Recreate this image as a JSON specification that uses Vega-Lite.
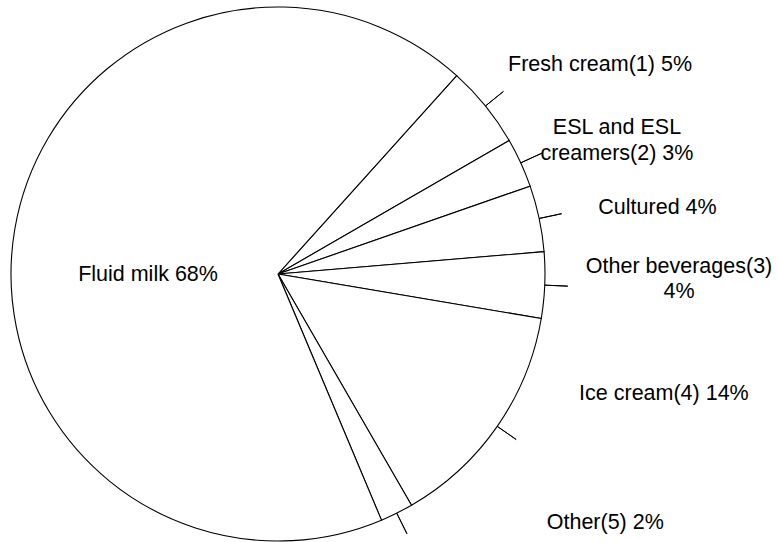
{
  "$schema": "https://vega.github.io/schema/vega-lite/v6.json",
  "width": 556,
  "height": 548,
  "padding": 0,
  "autosize": {"type": "pad"},
  "background": "white",
  "config": {"view": {"stroke": null}, "text": {"font": "Liberation Sans", "fontSize": 21.5, "color": "black", "lineBreak": "\n", "lineHeight": 25.3, "baseline": "alphabetic"}},
  "data": {"values": [
    {"category": "Fresh cream(1)", "value": 5, "label": "Fresh cream(1) 5%"},
    {"category": "ESL and ESL creamers(2)", "value": 3, "label": "ESL and ESL\ncreamers(2) 3%"},
    {"category": "Cultured", "value": 4, "label": "Cultured 4%"},
    {"category": "Other beverages(3)", "value": 4, "label": "Other beverages(3)\n4%"},
    {"category": "Ice cream(4)", "value": 14, "label": "Ice cream(4) 14%"},
    {"category": "Other(5)", "value": 2, "label": "Other(5) 2%"},
    {"category": "Fluid milk", "value": 68, "label": "Fluid milk 68%"}
  ]},
  "transform": [
    {"stack": "value", "groupby": [], "as": ["v0", "v1"]},
    {"calculate": "(datum.v0 + datum.v1) / 2", "as": "mid"}
  ],
  "layer": [
    {
      "mark": {"type": "arc", "radius": 267, "fill": "white", "stroke": "black", "strokeWidth": 1.1},
      "encoding": {
        "theta": {"field": "v0", "type": "quantitative", "scale": {"type": "linear", "domain": [0, 100], "range": [0.733, 7.0162]}},
        "theta2": {"field": "v1"}
      }
    },
    {
      "transform": [{"filter": "datum.category !== 'Fluid milk'"}],
      "mark": {"type": "arc", "radius": 290, "radius2": 267, "fill": null, "stroke": "black", "strokeWidth": 1},
      "encoding": {
        "theta": {"field": "mid", "type": "quantitative"},
        "theta2": {"field": "mid"}
      }
    },
    {
      "transform": [{"filter": "datum.category === 'Fresh cream(1)'"}],
      "mark": {"type": "text", "radius": 296, "align": "left", "dx": 0, "dy": -16.7},
      "encoding": {"theta": {"field": "mid", "type": "quantitative", "stack": null}, "text": {"field": "label"}}
    },
    {
      "transform": [{"filter": "datum.category === 'ESL and ESL creamers(2)'"}],
      "mark": {"type": "text", "radius": 296, "align": "center", "dx": 69.8, "dy": -16.5},
      "encoding": {"theta": {"field": "mid", "type": "quantitative", "stack": null}, "text": {"field": "label"}}
    },
    {
      "transform": [{"filter": "datum.category === 'Cultured'"}],
      "mark": {"type": "text", "radius": 296, "align": "left", "dx": 30.8, "dy": 1.5},
      "encoding": {"theta": {"field": "mid", "type": "quantitative", "stack": null}, "text": {"field": "label"}}
    },
    {
      "transform": [{"filter": "datum.category === 'Other beverages(3)'"}],
      "mark": {"type": "text", "radius": 296, "align": "center", "dx": 105.3, "dy": -13.7},
      "encoding": {"theta": {"field": "mid", "type": "quantitative", "stack": null}, "text": {"field": "label"}}
    },
    {
      "transform": [{"filter": "datum.category === 'Ice cream(4)'"}],
      "mark": {"type": "text", "radius": 296, "align": "left", "dx": 58, "dy": -42.6},
      "encoding": {"theta": {"field": "mid", "type": "quantitative", "stack": null}, "text": {"field": "label"}}
    },
    {
      "transform": [{"filter": "datum.category === 'Other(5)'"}],
      "mark": {"type": "text", "radius": 296, "align": "left", "dx": 137.1, "dy": -10.1},
      "encoding": {"theta": {"field": "mid", "type": "quantitative", "stack": null}, "text": {"field": "label"}}
    },
    {
      "transform": [{"filter": "datum.category === 'Fluid milk'"}],
      "mark": {"type": "text", "radius": 130, "align": "center", "dx": -1.8, "dy": 28.7},
      "encoding": {"theta": {"field": "mid", "type": "quantitative", "stack": null}, "text": {"field": "label"}}
    }
  ]
}
